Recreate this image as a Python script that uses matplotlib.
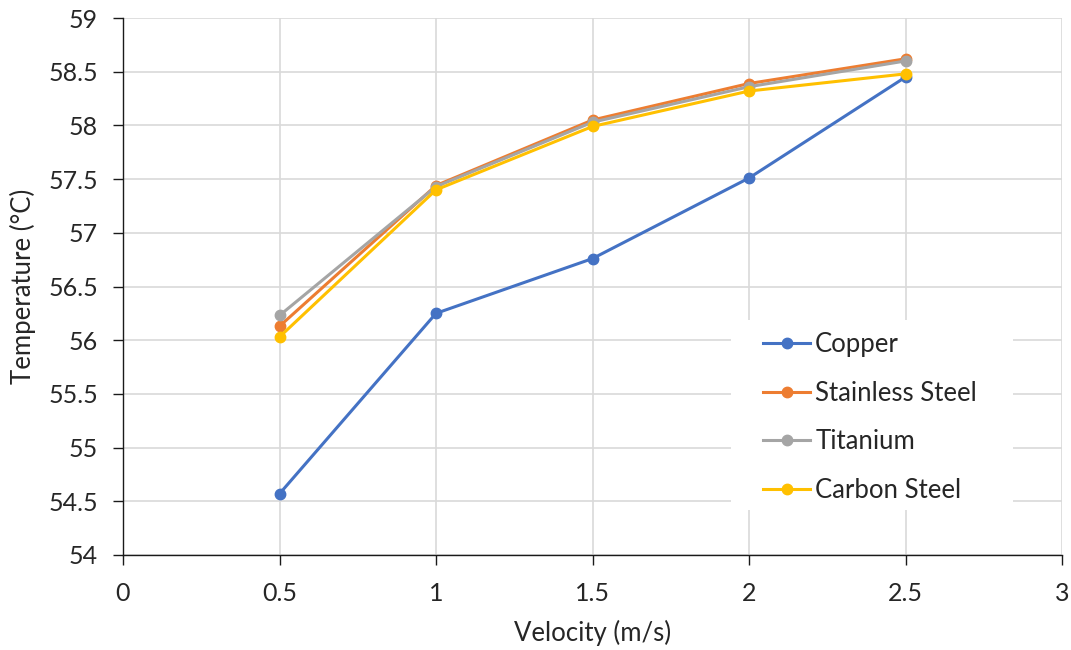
import matplotlib
matplotlib.use("Agg")
import matplotlib.pyplot as plt
from matplotlib.patches import Rectangle

velocity = [0.5, 1.0, 1.5, 2.0, 2.5]
copper = [54.57, 56.25, 56.76, 57.51, 58.45]
stainless_steel = [56.13, 57.44, 58.05, 58.39, 58.62]
titanium = [56.23, 57.43, 58.03, 58.36, 58.60]
carbon_steel = [56.03, 57.40, 57.99, 58.32, 58.48]

x_ticks = [0, 0.5, 1, 1.5, 2, 2.5, 3]
x_tick_labels = ["0", "0.5", "1", "1.5", "2", "2.5", "3"]
y_ticks = [54, 54.5, 55, 55.5, 56, 56.5, 57, 57.5, 58, 58.5, 59]
y_tick_labels = ["54", "54.5", "55", "55.5", "56", "56.5", "57",
                 "57.5", "58", "58.5", "59"]

series = [
    ("Copper", copper, "#4472C4"),
    ("Stainless Steel", stainless_steel, "#ED7D31"),
    ("Titanium", titanium, "#A5A5A5"),
    ("Carbon Steel", carbon_steel, "#FFC000"),
]

plt.rcParams["font.family"] = ["Lato", "DejaVu Sans"]
TEXT = "#262626"
TICK_FS = 18
LABEL_FS = 18.5
LEGEND_FS = 18.5

W, H = 1071, 650
fig = plt.figure(figsize=(W / 100, H / 100), dpi=100)
ax = fig.add_axes([123 / W, 1 - 555 / H, (1062 - 123) / W, (555 - 18) / H])

for name, vals, color in series:
    ax.plot(velocity, vals, color=color, lw=2.2, marker="o", ms=7.5,
            label=name, zorder=3)

ax.set_xlim(0, 3)
ax.set_ylim(54, 59)
ax.set_xticks(x_ticks)
ax.set_xticklabels(x_tick_labels)
ax.set_yticks(y_ticks)
ax.set_yticklabels(y_tick_labels)
ax.grid(True, color="#D9D9D9", lw=1.2)
ax.set_axisbelow(True)
for side in ["top", "right"]:
    ax.spines[side].set_visible(False)
for side in ["left", "bottom"]:
    ax.spines[side].set_color("#1a1a1a")
    ax.spines[side].set_linewidth(1.0)
ax.tick_params(direction="out", length=7, width=1.0, color="#1a1a1a",
               labelsize=TICK_FS, labelcolor=TEXT)
ax.tick_params(axis="y", pad=11)
ax.tick_params(axis="x", pad=12.5)

ax.set_xlabel("Velocity (m/s)", fontsize=LABEL_FS, color=TEXT)
ax.set_ylabel("Temperature (°C)", fontsize=LABEL_FS, color=TEXT)
ax.xaxis.set_label_coords(0.5, (555 - 633) / 537)
ax.xaxis.label.set_va("center")
ax.yaxis.set_label_coords((23 - 123) / 939, 0.5)
ax.yaxis.label.set_va("center")

# white panel behind the legend, hiding the gridlines there
ax.add_patch(Rectangle((731 / W, 1 - 510 / H), (1013 - 731) / W, (510 - 320) / H,
                       transform=fig.transFigure, facecolor="white",
                       edgecolor="none", zorder=1.5))

leg = ax.legend(loc="upper left", bbox_to_anchor=(763 / W, 1 - 332 / H),
                bbox_transform=fig.transFigure, fontsize=LEGEND_FS, frameon=False,
                borderpad=0, borderaxespad=0, labelspacing=0.92,
                handlelength=1.83, handletextpad=0.2)
leg.set_zorder(4)
for t in leg.get_texts():
    t.set_color(TEXT)

fig.savefig("out.png", dpi=100)
